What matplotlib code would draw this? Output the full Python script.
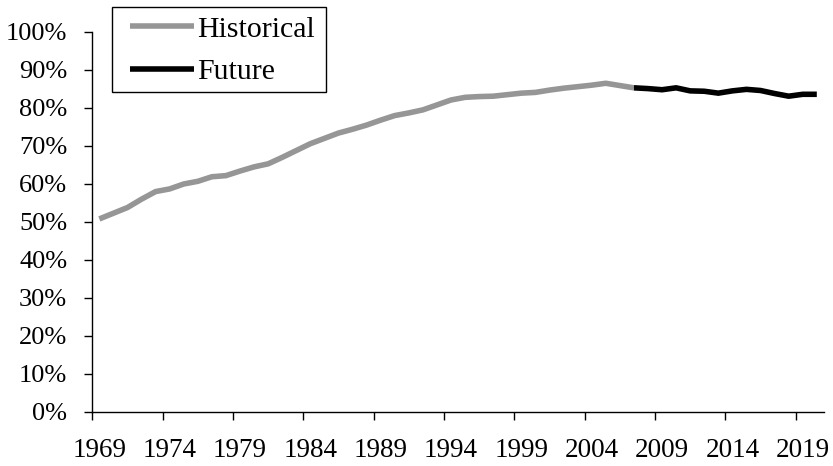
import matplotlib
matplotlib.use("Agg")
import matplotlib.pyplot as plt
from matplotlib.patches import Rectangle
from matplotlib.ticker import FixedLocator, FuncFormatter

# historical share, 1969-2007
hist_years = list(range(1969, 2008))
hist_vals = [50.8, 52.3, 53.8, 56.0, 58.0, 58.7, 60.0, 60.7, 61.9, 62.2,
             63.4, 64.5, 65.3, 67.0, 68.8, 70.6, 72.0, 73.4, 74.4, 75.5,
             76.8, 78.0, 78.7, 79.5, 80.8, 82.1, 82.8, 83.0, 83.1, 83.5,
             83.9, 84.1, 84.7, 85.2, 85.6, 86.0, 86.5, 85.9, 85.3]

# projected share, 2007-2020
fut_years = list(range(2007, 2021))
fut_vals = [85.3, 85.1, 84.8, 85.3, 84.5, 84.4, 83.9, 84.5, 84.9, 84.6,
            83.8, 83.1, 83.6, 83.6]

tick_labels = list(range(1969, 2020, 5))

plt.rcParams['font.family'] = ['Liberation Serif', 'DejaVu Serif']

W, H = 833, 466
fig = plt.figure(figsize=(W / 100, H / 100), dpi=100)
ax = fig.add_axes([0.1108, 0.1159, 0.8782, 0.8155])

ax.plot(hist_years, hist_vals, color='#969696', lw=4, solid_capstyle='butt',
        solid_joinstyle='round', label='Historical')
ax.plot(fut_years, fut_vals, color='black', lw=4, solid_capstyle='butt',
        solid_joinstyle='round', label='Future')

ax.set_xlim(1968.5, 2020.5)
ax.set_ylim(0, 100)

# category axis: ticks on boundaries, labels on category centres
ax.xaxis.set_major_locator(FixedLocator([y - 0.5 for y in tick_labels]))
ax.xaxis.set_major_formatter(FuncFormatter(lambda v, p: ''))
ax.xaxis.set_minor_locator(FixedLocator(tick_labels))
ax.xaxis.set_minor_formatter(FuncFormatter(lambda v, p: '%d' % round(v)))
ax.tick_params(axis='x', which='major', direction='out', length=6, width=1)
ax.tick_params(axis='x', which='minor', length=0, pad=19, labelsize=19.5)

ax.set_yticks(range(0, 101, 10))
ax.yaxis.set_major_formatter(FuncFormatter(lambda v, p: '%d%%' % v))
ax.tick_params(axis='y', direction='out', length=6, width=1, pad=12, labelsize=19)

for s in ['top', 'right']:
    ax.spines[s].set_visible(False)
for s in ['left', 'bottom']:
    ax.spines[s].set_linewidth(1)

# legend without its own frame, box drawn separately
ax.legend(loc='upper left', bbox_to_anchor=(130 / W, 1 - 16 / H),
          bbox_transform=fig.transFigure, fontsize=21.5, frameon=False,
          handlelength=2.15, handletextpad=0.1, labelspacing=0.52,
          borderpad=0, borderaxespad=0)
fig.patches.append(Rectangle((112 / W, 1 - 92 / H), 214 / W, 85 / H,
                             transform=fig.transFigure, fill=False,
                             edgecolor='black', linewidth=1))

fig.savefig('out.png', dpi=100)
